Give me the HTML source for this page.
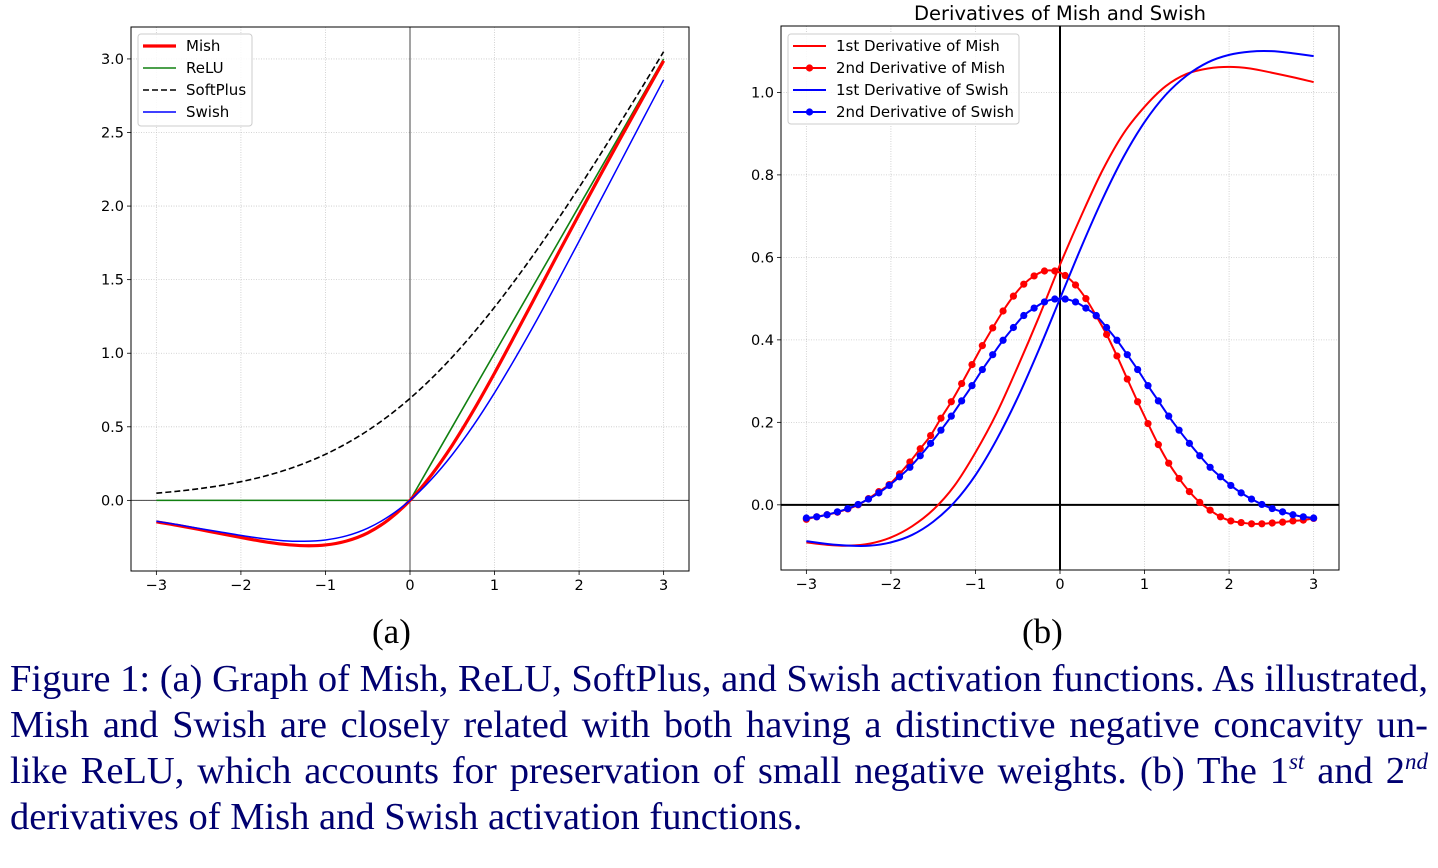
<!DOCTYPE html>
<html><head><meta charset="utf-8">
<style>
body{margin:0;background:#fff;width:1438px;height:868px;overflow:hidden;position:relative;font-family:"DejaVu Sans","Liberation Sans",sans-serif}
svg{position:absolute;left:0;top:0}
.cap{position:absolute;left:10px;width:1418px;font-family:"Liberation Serif",serif;font-size:38.5px;color:#000070;white-space:nowrap;line-height:46px}
.j{text-align:justify;text-align-last:justify;white-space:normal}
.sub{position:absolute;font-family:"Liberation Serif",serif;font-size:35px;color:#000}
</style></head><body>
<svg id="fig" width="1438" height="620"></svg>
<div class="sub" style="left:372px;top:612px">(a)</div>
<div class="sub" style="left:1022px;top:612px">(b)</div>
<div class="cap j" style="top:656px">Figure 1: (a) Graph of Mish, ReLU, SoftPlus, and Swish activation functions. As illustrated,</div>
<div class="cap j" style="top:702px">Mish and Swish are closely related with both having a distinctive negative concavity un-</div>
<div class="cap j" style="top:748px">like ReLU, which accounts for preservation of small negative weights. (b) The 1<sup style="font-size:23px;font-style:italic;line-height:0">st</sup> and 2<sup style="font-size:23px;font-style:italic;line-height:0">nd</sup></div>
<div class="cap" style="top:794px">derivatives of Mish and Swish activation functions.</div>
<script>
// ---- data (a) ----
const xsA = [-3,-2.75,-2.5,-2.25,-2,-1.75,-1.5,-1.25,-1,-0.75,-0.5,-0.25,0,0.25,0.5,0.75,1,1.25,1.5,1.75,2,2.25,2.5,2.75,3];
const mishVals = [-0.146,-0.170,-0.197,-0.225,-0.252,-0.278,-0.298,-0.308,-0.303,-0.276,-0.221,-0.130,0,0.170,0.375,0.610,0.865,1.132,1.403,1.675,1.944,2.209,2.471,2.730,2.987];
const reluVals = [0,0,0,0,0,0,0,0,0,0,0,0,0,0.25,0.5,0.75,1,1.25,1.5,1.75,2,2.25,2.5,2.75,3];
const softplusVals = [0.049,0.062,0.079,0.100,0.127,0.160,0.201,0.252,0.313,0.387,0.474,0.576,0.693,0.826,0.974,1.137,1.313,1.502,1.701,1.910,2.127,2.350,2.579,2.812,3.049];
const swishVals = [-0.142,-0.165,-0.190,-0.214,-0.238,-0.259,-0.274,-0.278,-0.269,-0.241,-0.189,-0.109,0,0.141,0.311,0.509,0.731,0.972,1.226,1.491,1.762,2.036,2.310,2.585,2.858];
const yTicksA = [0,0.5,1,1.5,2,2.5,3];
const yTickLabelsA = ["0.0","0.5","1.0","1.5","2.0","2.5","3.0"];
const xTicks = [-3,-2,-1,0,1,2,3];
const xTickLabels = ["\u22123","\u22122","\u22121","0","1","2","3"];
// ---- data (b) ----
const xsB = [-3,-2.75,-2.5,-2.25,-2,-1.75,-1.5,-1.25,-1,-0.75,-0.5,-0.25,0,0.25,0.5,0.75,1,1.25,1.5,1.75,2,2.25,2.5,2.75,3];
const mishD1 = [-0.091,-0.097,-0.099,-0.094,-0.079,-0.052,-0.012,0.046,0.127,0.222,0.335,0.455,0.582,0.70,0.81,0.90,0.965,1.015,1.045,1.058,1.062,1.058,1.048,1.037,1.025];
const swishD1 = [-0.088,-0.095,-0.099,-0.099,-0.091,-0.073,-0.041,0.006,0.072,0.158,0.260,0.376,0.5,0.624,0.740,0.843,0.928,0.994,1.041,1.073,1.091,1.099,1.100,1.095,1.088];
const mishD2 = [-0.035,-0.029,-0.024,-0.018,-0.010,0,0.015,0.032,0.049,0.075,0.104,0.136,0.168,0.210,0.250,0.294,0.340,0.386,0.429,0.470,0.506,0.535,0.555,0.567,0.567,0.556,0.533,0.500,0.458,0.413,0.361,0.305,0.250,0.197,0.146,0.101,0.064,0.032,0.006,-0.013,-0.029,-0.039,-0.043,-0.046,-0.046,-0.044,-0.042,-0.039,-0.037,-0.033];
const swishD2 = [-0.032,-0.029,-0.024,-0.017,-0.009,0.001,0.014,0.029,0.047,0.068,0.091,0.119,0.149,0.181,0.215,0.252,0.289,0.328,0.364,0.399,0.430,0.459,0.477,0.492,0.499,0.499,0.492,0.477,0.459,0.430,0.399,0.364,0.328,0.289,0.252,0.215,0.181,0.149,0.119,0.091,0.068,0.047,0.029,0.014,0.001,-0.009,-0.017,-0.024,-0.029,-0.032];
const yTicksB = [0,0.2,0.4,0.6,0.8,1.0];
const yTickLabelsB = ["0.0","0.2","0.4","0.6","0.8","1.0"];

const NS="http://www.w3.org/2000/svg";
const svg=document.getElementById('fig');
function mk(tag,attrs,parent){const e=document.createElementNS(NS,tag);for(const k in attrs)e.setAttribute(k,attrs[k]);(parent||svg).appendChild(e);return e;}

function axes(box,xd,yd){
  const sx=v=>box[0]+(v-xd[0])/(xd[1]-xd[0])*(box[2]-box[0]);
  const sy=v=>box[3]-(v-yd[0])/(yd[1]-yd[0])*(box[3]-box[1]);
  return {sx,sy};
}
function drawFrame(box,A,yT,yL,prefix){
  const g=mk('g',{});
  
  
  xTicks.forEach((v,i)=>{
    const x=A.sx(v);
    const l=mk('line',{x1:x,x2:x,y1:box[1],y2:box[3],stroke:'#c8c8c8','stroke-width':0.8,'stroke-dasharray':'1,1.5'},g);
    
    
    mk('line',{x1:x,x2:x,y1:box[3],y2:box[3]+4,stroke:'#000','stroke-width':0.8},g);
    const t=mk('text',{x:x,y:box[3]+19,'text-anchor':'middle','font-size':14.5,fill:'#000'},g);
    t.textContent=xTickLabels[i];
    
    
  });
  yT.forEach((v,i)=>{
    const y=A.sy(v);
    const l=mk('line',{x1:box[0],x2:box[2],y1:y,y2:y,stroke:'#c8c8c8','stroke-width':0.8,'stroke-dasharray':'1,1.5'},g);
    
    
    mk('line',{x1:box[0]-4,x2:box[0],y1:y,y2:y,stroke:'#000','stroke-width':0.8},g);
    const t=mk('text',{x:box[0]-7,y:y+5,'text-anchor':'end','font-size':14.5,fill:'#000'},g);
    t.textContent=yL[i];
    
    
  });
  return g;
}
function path(xs,ys,A){
  const P=xs.map((x,i)=>[A.sx(x),A.sy(ys[i])]);
  let d='M'+P[0][0].toFixed(2)+','+P[0][1].toFixed(2);
  for(let i=0;i<P.length-1;i++){
    const p0=P[Math.max(0,i-1)],p1=P[i],p2=P[i+1],p3=P[Math.min(P.length-1,i+2)];
    const c1=[p1[0]+(p2[0]-p0[0])/6,p1[1]+(p2[1]-p0[1])/6];
    const c2=[p2[0]-(p3[0]-p1[0])/6,p2[1]-(p3[1]-p1[1])/6];
    d+='C'+c1[0].toFixed(2)+','+c1[1].toFixed(2)+' '+c2[0].toFixed(2)+','+c2[1].toFixed(2)+' '+p2[0].toFixed(2)+','+p2[1].toFixed(2);
  }
  return d;
}
function lpath(xs,ys,A){return xs.map((x,i)=>(i?'L':'M')+A.sx(x).toFixed(2)+','+A.sy(ys[i]).toFixed(2)).join('');}

// ---------- Plot (a) ----------
const boxA=[131,27,689,571];
const A=axes(boxA,[-3.3,3.3],[-0.48,3.217]);
drawFrame(boxA,A,yTicksA,yTickLabelsA,'plot-a');
mk('line',{x1:A.sx(0),x2:A.sx(0),y1:boxA[1],y2:boxA[3],stroke:'#444','stroke-width':1});
mk('line',{x1:boxA[0],x2:boxA[2],y1:A.sy(0),y2:A.sy(0),stroke:'#444','stroke-width':1});
let p;
p=mk('path',{d:path(xsA,softplusVals,A),fill:'none',stroke:'#000','stroke-width':1.6,'stroke-dasharray':'6,3'});

p=mk('path',{d:lpath(xsA,reluVals,A),fill:'none',stroke:'#118011','stroke-width':1.6});

p=mk('path',{d:path(xsA,mishVals,A),fill:'none',stroke:'#ff0000','stroke-width':3.2});

p=mk('path',{d:path(xsA,swishVals,A),fill:'none',stroke:'#0000ff','stroke-width':1.5});

mk('rect',{x:boxA[0],y:boxA[1],width:boxA[2]-boxA[0],height:boxA[3]-boxA[1],fill:'none',stroke:'#000','stroke-width':1});
const legA=mk('g',{});

mk('rect',{x:138,y:34,width:114,height:92,rx:3,fill:'#fff','fill-opacity':0.85,stroke:'#ccc','stroke-width':1},legA);
[['Mish','#ff0000',3.2,''],['ReLU','#118011',1.6,''],['SoftPlus','#000',1.6,'6,3'],['Swish','#0000ff',1.5,'']].forEach((e,i)=>{
  const y=46+i*22;
  mk('line',{x1:143,x2:176,y1:y,y2:y,stroke:e[1],'stroke-width':e[2],'stroke-dasharray':e[3]||'none'},legA);
  const t=mk('text',{x:186,y:y+5,'font-size':15,fill:'#000'},legA);t.textContent=e[0];
  
});

// ---------- Plot (b) ----------
const boxB=[781,26,1339,570];
const B=axes(boxB,[-3.3,3.3],[-0.158,1.161]);
drawFrame(boxB,B,yTicksB,yTickLabelsB,'plot-b');
mk('line',{x1:B.sx(0),x2:B.sx(0),y1:boxB[1],y2:boxB[3],stroke:'#000','stroke-width':2});
mk('line',{x1:boxB[0],x2:boxB[2],y1:B.sy(0),y2:B.sy(0),stroke:'#000','stroke-width':2});
const xsM=mishD2.map((_,i)=>-3+i*6/(mishD2.length-1));
const xsS=swishD2.map((_,i)=>-3+i*6/(swishD2.length-1));
p=mk('path',{d:path(xsB,mishD1,B),fill:'none',stroke:'#ff0000','stroke-width':2});

p=mk('path',{d:path(xsM,mishD2,B),fill:'none',stroke:'#ff0000','stroke-width':2});

xsM.forEach((x,i)=>{const c=mk('circle',{cx:B.sx(x),cy:B.sy(mishD2[i]),r:3.6,fill:'#ff0000'});
  });
p=mk('path',{d:path(xsB,swishD1,B),fill:'none',stroke:'#0000ff','stroke-width':2});

p=mk('path',{d:path(xsS,swishD2,B),fill:'none',stroke:'#0000ff','stroke-width':2});

xsS.forEach((x,i)=>{const c=mk('circle',{cx:B.sx(x),cy:B.sy(swishD2[i]),r:3.6,fill:'#0000ff'});
  });
mk('rect',{x:boxB[0],y:boxB[1],width:boxB[2]-boxB[0],height:boxB[3]-boxB[1],fill:'none',stroke:'#000','stroke-width':1});
const tt=mk('text',{x:1060,y:20,'text-anchor':'middle','font-size':19.5,fill:'#000'});
tt.textContent='Derivatives of Mish and Swish';

const legB=mk('g',{});

mk('rect',{x:788,y:34,width:231,height:90,rx:3,fill:'#fff','fill-opacity':0.85,stroke:'#ccc','stroke-width':1},legB);
[['1st Derivative of Mish','#ff0000',0],['2nd Derivative of Mish','#ff0000',1],['1st Derivative of Swish','#0000ff',0],['2nd Derivative of Swish','#0000ff',1]].forEach((e,i)=>{
  const y=46+i*22;
  mk('line',{x1:793,x2:826,y1:y,y2:y,stroke:e[1],'stroke-width':2},legB);
  if(e[2])mk('circle',{cx:809.5,cy:y,r:3.6,fill:e[1]},legB);
  const t=mk('text',{x:836,y:y+5,'font-size':15,fill:'#000'},legB);t.textContent=e[0];
  
});
</script>
</body></html>
